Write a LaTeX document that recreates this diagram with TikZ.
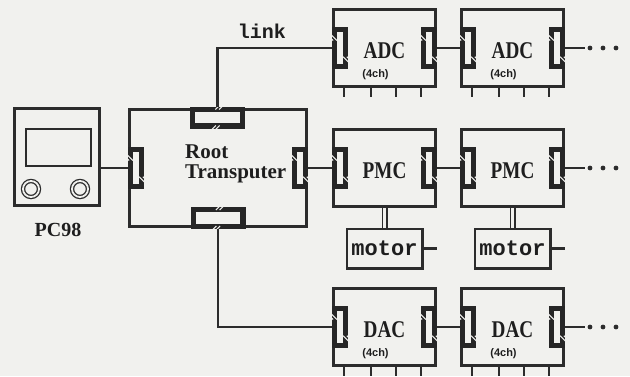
\documentclass[tikz,border=0pt]{standalone}
\usepackage{fontspec}
\usepackage{tikz}
\usetikzlibrary{positioning,calc}
\newfontfamily\serifbf{Liberation Serif Bold}
\newfontfamily\narrowbf[FakeStretch=0.8]{Liberation Serif Bold}
\newfontfamily\monobf{Liberation Mono Bold}
\newfontfamily\smallsans{Liberation Sans Bold}
\definecolor{paper}{HTML}{F1F1EE}
\definecolor{ink}{HTML}{2C2C2C}
\definecolor{portink}{HTML}{262626}
\definecolor{textink}{HTML}{1E1E1E}
\tikzset{
  unitbox/.style={draw=ink,line width=3pt,minimum width=102pt,
                  minimum height=77pt,inner sep=0pt},
  hubbox/.style={draw=ink,line width=3pt,minimum width=177pt,
                 minimum height=117pt,inner sep=0pt},
  hostbox/.style={draw=ink,line width=2.6pt,minimum width=85.4pt,
                  minimum height=97.4pt,inner sep=0pt},
  screenbox/.style={draw=ink,line width=2.4pt,minimum width=64.6pt,
                    minimum height=36.6pt,inner sep=0pt},
  knob/.style={circle,draw=ink,line width=1.3pt,double=paper,
               double distance=1.8pt,minimum size=16pt,inner sep=0pt},
  motorbox/.style={draw=ink,line width=2.8pt,minimum width=75.2pt,
                   minimum height=39.2pt,inner sep=0pt,text=textink,
                   font=\monobf\fontsize{22}{22}\selectfont},
  vport/.style={draw=portink,fill=paper,line width=5.4pt,
                minimum width=10.6pt,minimum height=36.6pt,inner sep=0pt},
  hport/.style={draw=portink,fill=paper,line width=5.4pt,
                minimum width=49.6pt,minimum height=16.6pt,inner sep=0pt},
  wire/.style={draw=ink,line width=2.4pt},
  shaft/.style={draw=ink,line width=1.5pt,double=paper,double distance=3pt},
  pin/.style={draw=ink,line width=2.8pt},
  hatch/.style={draw=paper,line width=1.1pt},
  unitlbl/.style={font=\narrowbf\fontsize{24}{24}\selectfont,
                  text=textink,inner sep=0pt},
  chlbl/.style={font=\smallsans\fontsize{11}{11}\selectfont,
                text=textink,inner sep=0pt},
  hublbl/.style={font=\serifbf\fontsize{21}{20}\selectfont,
                 text=textink,inner sep=0pt,align=left},
  namelbl/.style={font=\serifbf\fontsize{20}{20}\selectfont,
                  text=textink,inner sep=0pt},
  linklbl/.style={font=\monobf\fontsize{20}{20}\selectfont,
                  text=textink,inner sep=0pt}
}

\begin{document}
\begin{tikzpicture}[x=1pt,y=-1pt]
  \fill[paper] (0,0) rectangle (630,376);
  \useasboundingbox (0,0) rectangle (630,376);

  % host computer
  \node[hostbox] (pc) at (57,157) {};
  \node[screenbox] (pcscreen) at (58.5,147.5) {};
  \node[knob] (knobL) at (31,189) {};
  \node[knob] (knobR) at (80,189) {};
  \node[namelbl] (pclbl) at (58,230) {PC98};

  % root transputer with its four links
  \node[hubbox] (root) at (218,168) {};
  \node[vport] (rootL) at (136,168) {};
  \node[vport] (rootR) at (300,168) {};
  \node[hport] (rootT) at (217.5,117.5) {};
  \node[hport] (rootB) at (218,218) {};
  \node[hublbl,anchor=west] (rootlbl) at (185,164) {Root\\Transputer};

  % the chained units
  \foreach \nm/\cx/\cy in {adcA/384.5/48,adcB/512.5/48,pmcA/384.5/168,
                           pmcB/512.5/168,dacA/384.5/327,dacB/512.5/327} {
    \node[unitbox] (\nm) at (\cx,\cy) {};
    \node[vport] (\nm-in) at (\cx-44.5,\cy) {};
    \node[vport] (\nm-out) at (\cx+44.5,\cy) {};
  }
  \foreach \nm/\txt in {adcA/ADC,adcB/ADC,pmcA/PMC,pmcB/PMC,dacA/DAC,dacB/DAC}
    \node[unitlbl] (\nm-lbl) at ($(\nm.center)+(0,3)$) {\txt};
  \foreach \nm in {adcA,adcB,dacA,dacB} {
    \node[chlbl] (\nm-ch) at ($(\nm.center)+(-9,27)$) {(4ch)};
    \foreach \p in {12,39,64,89}
      \draw[pin] ($(\nm.south west)+(\p,0)$) -- ++(0,9);
  }

  % port hatching
  \foreach \p in {rootL,rootR,adcA-in,adcA-out,adcB-in,adcB-out,pmcA-in,
                  pmcA-out,pmcB-in,pmcB-out,dacA-in,dacA-out,dacB-in,dacB-out} {
    \foreach \s in {-1.8,1.8} {
      \draw[hatch] ($(\p.north west)!0.25!(\p.south west)+(\s-3,-3)$) -- ++(6,6);
      \draw[hatch] ($(\p.north east)!0.78!(\p.south east)+(\s-3,-3)$) -- ++(6,6);
    }
  }
  \foreach \p in {rootT,rootB} {
    \foreach \s in {-1.8,1.8} {
      \draw[hatch] ($(\p.north west)!0.55!(\p.north east)+(\s-3,3)$) -- ++(6,-6);
      \draw[hatch] ($(\p.south west)!0.45!(\p.south east)+(\s-3,3)$) -- ++(6,-6);
    }
  }

  % motors under the PMCs
  \foreach \nm/\mt in {pmcA/motA,pmcB/motB} {
    \node[motorbox] (\mt) at ($(\nm.south)+(0,40.5)$) {motor};
    \draw[shaft] (\nm.south) -- (\mt.north);
    \draw[wire] (\mt.east) -- (\mt.east -| \nm.east);
  }

  % links
  \draw[wire] (rootL.west) -- (rootL.west -| pc.east);
  \draw[wire] (rootR.east) -- (pmcA-in.west);
  \draw[wire] (rootT.north) |- (adcA-in.west);
  \draw[wire] (rootB.south) |- (dacA-in.west);
  \node[linklbl] (linklbl) at (262,31) {link};
  \foreach \a/\b in {adcA/adcB,pmcA/pmcB,dacA/dacB}
    \draw[wire] (\a-out.east) -- (\b-in.west);
  \foreach \nm in {adcB,pmcB,dacB} {
    \coordinate (\nm-end) at ($(\nm-out.east)+(20,0)$);
    \draw[wire] (\nm-out.east) -- (\nm-end);
    \foreach \k in {0,1,2}
      \fill[ink] ($(\nm-end)+(5+13*\k,0)$) circle (2.4pt);
  }
\end{tikzpicture}
\end{document}
